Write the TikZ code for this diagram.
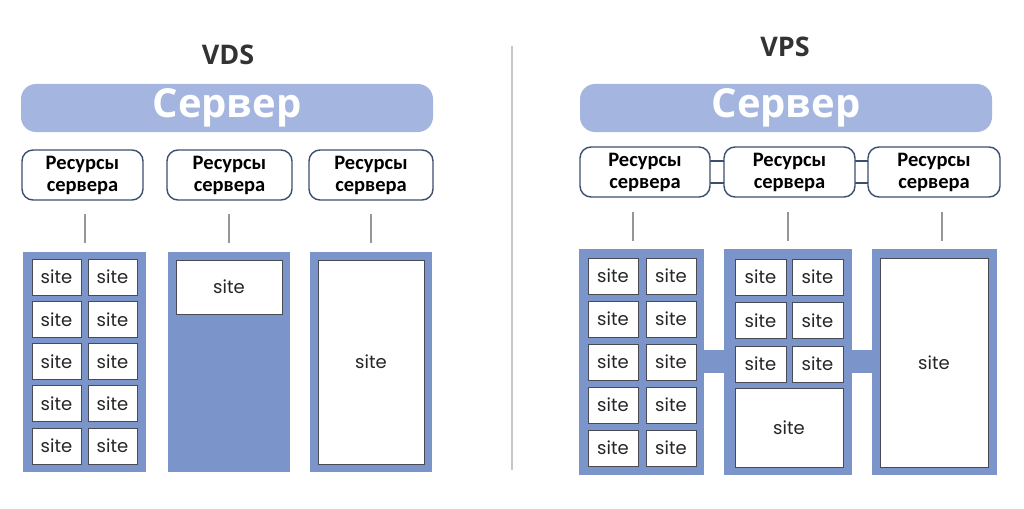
\documentclass[tikz,border=0pt]{standalone}
\usepackage{fontspec}
\usepackage{xcolor}
\usepackage{tikz}
\usetikzlibrary{positioning,calc}

\newfontfamily\headfont{Open Sans}
\newfontfamily\resfont{Carlito}
\newfontfamily\sitefont{Poppins}

\definecolor{barblue}{RGB}{164,181,223}
\definecolor{boxblue}{RGB}{123,148,202}
\definecolor{resline}{RGB}{58,78,110}
\definecolor{siteline}{RGB}{72,74,84}
\definecolor{tickgray}{RGB}{150,150,150}
\definecolor{titlegray}{RGB}{51,51,51}

\begin{document}
\begin{tikzpicture}[
  x=1pt, y=-1pt,
  ttl/.style={
    inner sep=0pt, text=titlegray,
    font=\headfont\bfseries\fontsize{27}{27}\selectfont
  },
  srv/.style={
    rectangle, rounded corners=15pt, fill=barblue,
    minimum width=412pt, minimum height=48pt, inner sep=0pt,
    text=white, font=\headfont\bfseries\fontsize{40}{40}\selectfont
  },
  res/.style={
    rectangle, rounded corners=11pt, draw=resline, line width=1.4pt,
    fill=white, minimum height=50pt, inner sep=0pt,
    align=center, text=black,
    font=\resfont\bfseries\fontsize{20.5}{22}\selectfont
  },
  cont/.style={
    rectangle, fill=boxblue, minimum height=220pt, inner sep=0pt
  },
  site/.style={
    rectangle, draw=siteline, line width=1pt, fill=white,
    minimum width=49pt, minimum height=36pt, inner sep=0pt,
    text=black!85, font=\sitefont\fontsize{18}{18}\selectfont
  },
  tick/.style={draw=tickgray, line width=2.6pt},
  link/.style={draw=resline, line width=1.4pt},
  bridge/.style={rectangle, fill=boxblue, minimum height=23pt, inner sep=0pt}
]
\useasboundingbox (0,0) rectangle (1024,508);

% divider between the two halves
\coordinate (dtop) at (512,46);
\coordinate (dbot) at (512,470);
\draw[draw=black!22, line width=1.3pt] (dtop) -- (dbot);

%%%%%%%%%%%%%%%% VDS (left half)
\node[ttl] (vds) at (228,55) {VDS};
\node[srv] (srvL) at (227,108) {Сервер};

% resource boxes
\node[res, minimum width=121pt] (resL1) at (82.5,175) {Ресурсы\\сервера};
\node[res, minimum width=125pt] (resL2) at (229.5,175) {Ресурсы\\сервера};
\node[res, minimum width=124pt] (resL3) at (371,175) {Ресурсы\\сервера};

% containers
\node[cont, minimum width=123pt] (cL1) at (84.5,362) {};
\node[cont, minimum width=122pt] (cL2) at (229,362) {};
\node[cont, minimum width=122pt] (cL3) at (371,362) {};

% ticks
\foreach \t/\x/\c in {tL1/85/cL1, tL2/229/cL2, tL3/371/cL3} {
  \coordinate (\t) at (\x,214);
  \draw[tick] (\t) -- (\t |- \c.north) [shorten >=9pt];
}

% sites: many small ones
\foreach \r in {0,...,4} {
  \node[site] (sL1a\r) at (56.5,277+42.25*\r) {site};
  \node[site] (sL1b\r) at (112.5,277+42.25*\r) {site};
}
% one site with reserved room
\node[site, minimum width=106pt, minimum height=54pt] (sL2) at (229,287) {site};
% one site on the whole box
\node[site, minimum width=106pt, minimum height=204pt] (sL3) at (371,362) {site};

%%%%%%%%%%%%%%%% VPS (right half)
\node[ttl] (vps) at (785,47) {VPS};
\node[srv] (srvR) at (786,108) {Сервер};

% links between resource boxes (drawn first, boxes cover them)
\coordinate (lk1) at (645,161);
\coordinate (lk2) at (645,183);
\coordinate (lk3) at (789.5,161);
\coordinate (lk4) at (789.5,183);
\coordinate (lk5) at (934,161);
\coordinate (lk6) at (934,183);
\draw[link] (lk1) -- (lk5);
\draw[link] (lk2) -- (lk6);

\node[res, minimum width=130pt] (resR1) at (645,172) {Ресурсы\\сервера};
\node[res, minimum width=131pt] (resR2) at (789.5,172) {Ресурсы\\сервера};
\node[res, minimum width=132pt] (resR3) at (934,172) {Ресурсы\\сервера};

% bridges between containers
\coordinate (bg1) at (641.5,361.5);
\coordinate (bg2) at (934.5,361.5);
\node[bridge, minimum width=293pt] (brR) at ($(bg1)!0.5!(bg2)$) {};

% containers
\node[cont, minimum width=125pt, minimum height=226pt] (cR1) at (641.5,362) {};
\node[cont, minimum width=128pt, minimum height=226pt] (cR2) at (788,362) {};
\node[cont, minimum width=125pt, minimum height=226pt] (cR3) at (934.5,362) {};

% ticks
\foreach \t/\x/\c in {tR1/633/cR1, tR2/788/cR2, tR3/942/cR3} {
  \coordinate (\t) at (\x,212);
  \draw[tick] (\t) -- (\t |- \c.north) [shorten >=8pt];
}

% sites of the first box
\foreach \r in {0,...,4} {
  \node[site, minimum width=50pt] (sR1a\r) at (613,276+43*\r) {site};
  \node[site, minimum width=50pt] (sR1b\r) at (671,276+43*\r) {site};
}
% sites of the second box
\foreach \r in {0,...,2} {
  \node[site, minimum width=51pt] (sR2a\r) at (760.5,277+43.5*\r) {site};
  \node[site, minimum width=51pt] (sR2b\r) at (817.5,277+43.5*\r) {site};
}
\node[site, minimum width=108pt, minimum height=79pt] (sR2c) at (789,427.5) {site};
% site of the third box
\node[site, minimum width=108pt, minimum height=209pt] (sR3) at (934,362.5) {site};

\end{tikzpicture}
\end{document}
